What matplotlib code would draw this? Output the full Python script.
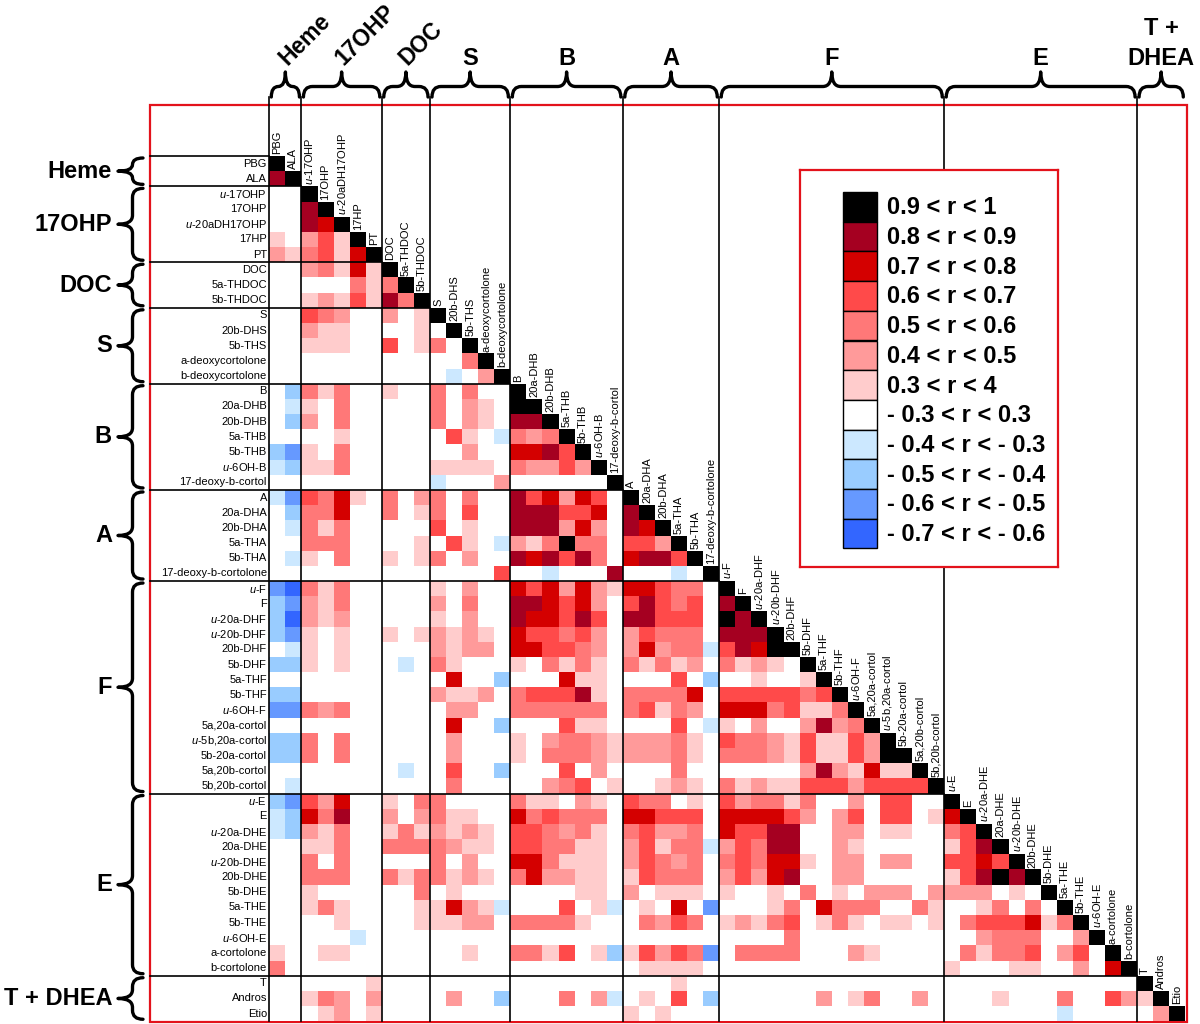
import numpy as np
import matplotlib
matplotlib.use("Agg")
import matplotlib.pyplot as plt
from matplotlib.colors import ListedColormap, BoundaryNorm
from matplotlib.path import Path
from matplotlib.patches import PathPatch, Rectangle

plt.rcParams['font.family'] = ['Liberation Sans', 'DejaVu Sans']
plt.rcParams['mathtext.fontset'] = 'custom'
plt.rcParams['mathtext.rm'] = 'Liberation Sans'
plt.rcParams['mathtext.it'] = 'Liberation Sans:italic'

# metabolites, in matrix order
names = ['PBG', 'ALA',
         'u-17OHP', '17OHP', 'u-20aDH17OHP', '17HP', 'PT',
         'DOC', '5a-THDOC', '5b-THDOC',
         'S', '20b-DHS', '5b-THS', 'a-deoxycortolone', 'b-deoxycortolone',
         'B', '20a-DHB', '20b-DHB', '5a-THB', '5b-THB', 'u-6OH-B', '17-deoxy-b-cortol',
         'A', '20a-DHA', '20b-DHA', '5a-THA', '5b-THA', '17-deoxy-b-cortolone',
         'u-F', 'F', 'u-20a-DHF', 'u-20b-DHF', '20b-DHF', '5b-DHF', '5a-THF', '5b-THF',
         'u-6OH-F', '5a,20a-cortol', 'u-5b,20a-cortol', '5b-20a-cortol', '5a,20b-cortol',
         '5b,20b-cortol',
         'u-E', 'E', 'u-20a-DHE', '20a-DHE', 'u-20b-DHE', '20b-DHE', '5b-DHE', '5a-THE',
         '5b-THE', 'u-6OH-E', 'a-cortolone', 'b-cortolone',
         'T', 'Andros', 'Etio']

groups = ['Heme', '17OHP', 'DOC', 'S', 'B', 'A', 'F', 'E', 'T + DHEA']
group_sizes = [2, 5, 3, 5, 7, 6, 14, 12, 3]

# lower triangle, one string per row (spaces only for reading)
# 9..3 : 0.9<r<1 ... 0.3<r<0.4 ; '.' : -0.3<r<0.3 ; a..d : -0.4<r<-0.3 ... -0.7<r<-0.6
rows = [
    "9",
    "89",
    "..9",
    "..89",
    "..879",
    "3.4639",
    "4356379",
    "..453739",
    ".....5359",
    "..34363859",
    "..654..4.39",
    "..433....3. 9",
    "..333..6.35 .9",
    "........... .59",
    "........... a.49",
    ".b535..3..5 .5.. 9",
    ".a3.5.....5 .43. 99",
    ".b4.5.....5 .43. 889",
    "....3...... 63.a 5459",
    "bc3.5...... .4.. 77869",
    "ab335.....3 333. 544649",
    "..........a ...4 ......9",
    "ac6573.5.45 .5.. 867476. 9",
    ".b557..5.35 .6.. 888667. 89",
    ".a535.....6 .3.. 888474. 879",
    "..555....3. 63.a 435955. 6649",
    ".a3.5..3.35 .4.. 878685. 78869",
    "........... ...6 ..a...8 ...a.9",
    "cd535.....3 .4.. 7674743 77655. 9",
    "bc435.....4 .5.. 887674. 68656. 89",
    "bd434.....3 .4.. 877686. 88666. 989",
    "bc3.3..3.34 343. 766564. 46555. 8889",
    ".a3.3.....4 344. 776654. 47455a 68799",
    "bb3.3...a.5 3... 3.5353. 53534. 5343.9",
    "........... 7..b ...733. ...6.b ..3..39",
    "bb........4 334. 566683. 55557. 66666569",
    "cc545...... 44.. 555555. 56354. 777563359",
    "........... 7..b ...633. ...6.a 3.4..48459",
    "bb5.5...... 4... 3.45543 44453. 65543633649",
    "bb5.5...... 4... 3.55543 44453. 555436336499",
    "........a.. 6..b ...6.4. ...5.. .....48437339",
    ".a......... 5... ..456.3 ..343. 53433666466669",
    "bc647..3.55 .... 533.43. 655.3. 645535..4.66..9",
    "ab758..4.45 33.. 756555. 77666. 777764.46.66.379",
    "ab435..3534 343. 665453. 56445. 76688..44.33..569",
    "..335..5555 433. 665533. 46355a 46588..43.....3689",
    "..5.5.....5 .4.. 775333. 46545. 565773.44.44..66769",
    "..555..5355 343. 574433. 36555. 46478..44.....368989",
    "..3......5. 3... ....33. 4.333. 3..3.5.3.444.4444.3.9",
    "..353....33 743a ...6.3a .3.7.c ...35.7555..53..35.5.9",
    "....3....33 344. 55553.. .5465. 34356.353.33.3.56667359",
    ".....a..... .... ....... ...... ....5 ........... 4555..49",
    "3..33...... .3.. 5536.3b 36465c .5555...43.....53556.46.9",
    "5.......... .... ....... .3333. .............. 3...33..4.79",
    "......3.... .... ....... ...3.. ..........................9",
    "..354.4.... 4..b ...5.4a .3.6.b ......4.35..4....3...5..6439",
    "...34.3.... .... ....... 3.3... ..................... a.....49",
]

level_codes = '9876543.abcd'
level_r = [0.95, 0.85, 0.75, 0.65, 0.55, 0.45, 0.35, 0.0, -0.35, -0.45, -0.55, -0.65]
level_colors = ['#000000', '#A50021', '#D40000', '#FF4A4A', '#FF7878', '#FF9A9A',
                '#FFCCCC', '#FFFFFF', '#CCE8FF', '#99CCFF', '#6699FF', '#3366FF']
level_labels = ['0.9 < r < 1', '0.8 < r < 0.9', '0.7 < r < 0.8', '0.6 < r < 0.7',
                '0.5 < r < 0.6', '0.4 < r < 0.5', '0.3 < r < 4', '- 0.3 < r < 0.3',
                '- 0.4 < r < - 0.3', '- 0.5 < r < - 0.4', '- 0.6 < r < - 0.5',
                '- 0.7 < r < - 0.6']

n = len(names)
M = np.full((n, n), np.nan)
for i, row in enumerate(rows):
    row = row.replace(' ', '')
    assert len(row) == i + 1, (i, len(row))
    for j, ch in enumerate(row):
        M[i, j] = level_r[level_codes.index(ch)]

bounds = [-0.7, -0.6, -0.5, -0.4, -0.3, 0.3, 0.4, 0.5, 0.6, 0.7, 0.8, 0.9, 1.0]
cmap = ListedColormap(level_colors[::-1])
norm = BoundaryNorm(bounds, cmap.N)


def fmt(name):
    if name.startswith('u-'):
        return r'$\mathit{u}$-' + name[2:]
    return name


def brace(axis, a, b, base, tip, vertical=False, lw=2.4):
    # curly brace from a to b, ends at `base`, point at `tip`
    L = b - a
    d = tip - base
    h1 = d * 0.42
    r = min(9.0, L / 4.0)
    pts = [(0, 0), (0, h1), (r, h1), (L / 2 - r, h1), (L / 2, h1), (L / 2, d),
           (L / 2, h1), (L / 2 + r, h1), (L - r, h1), (L, h1), (L, 0)]
    codes = [Path.MOVETO, Path.CURVE3, Path.CURVE3, Path.LINETO, Path.CURVE3, Path.CURVE3,
             Path.CURVE3, Path.CURVE3, Path.LINETO, Path.CURVE3, Path.CURVE3]
    if vertical:
        verts = [(base + v, a + u) for u, v in pts]
    else:
        verts = [(a + u, base + v) for u, v in pts]
    axis.add_patch(PathPatch(Path(verts, codes), fill=False, lw=lw, color='black',
                             capstyle='round', joinstyle='round'))


W, H = 1200, 1024
X0, Y0, CW, CH = 269.3, 156.0, 16.07, 15.18

fig = plt.figure(figsize=(12, 10.24), dpi=100)

ov = fig.add_axes([0, 0, 1, 1], zorder=0)
ov.set_xlim(0, W)
ov.set_ylim(H, 0)
ov.axis('off')

ax = fig.add_axes([X0 / W, 1 - (Y0 + n * CH) / H, n * CW / W, n * CH / H], zorder=1)
ax.pcolormesh(np.arange(n + 1), np.arange(n + 1), np.ma.masked_invalid(M),
              cmap=cmap, norm=norm, antialiased=False)
ax.set_xlim(0, n)
ax.set_ylim(n, 0)
ax.axis('off')

for i, name in enumerate(names):
    ax.text(-0.15, i + 0.5, fmt(name), ha='right', va='center', fontsize=8)
    ax.text(i + 0.5, i - 0.12, fmt(name), rotation=90, ha='center', va='bottom',
            fontsize=8)

starts = np.concatenate([[0], np.cumsum(group_sizes)[:-1]])
ends = np.cumsum(group_sizes)
x_frame = (150 - X0) / CW
y_top = (97 - Y0) / CH
for k in starts:
    ax.plot([k, k], [y_top, n], color='black', lw=1.2, clip_on=False)
    ax.plot([x_frame, k], [k, k], color='black', lw=1.2, clip_on=False)

ov.add_patch(Rectangle((150, 105), 1037, 917, fill=False, ec='#E3121B', lw=1.6))

for g, s, e in zip(groups, starts, ends):
    xa, xb = X0 + s * CW, X0 + e * CW
    brace(ov, xa + 2, xb - 2, 97, 72)
    ya, yb = Y0 + s * CH, Y0 + e * CH
    brace(ov, ya + 2, yb - 2, 143, 118, vertical=True)
    ov.text(112, (ya + yb) / 2, g, ha='right', va='center', fontsize=17,
            fontweight='bold')
    xm = (xa + xb) / 2
    if g in ('Heme', '17OHP', 'DOC'):
        ov.text(xm + 2, 66, g, rotation=45, rotation_mode='anchor', ha='left',
                va='baseline', fontsize=16.5, fontweight='bold')
    elif g == 'T + DHEA':
        ov.text(xm, 35, 'T +', ha='center', va='baseline', fontsize=17,
                fontweight='bold')
        ov.text(xm, 65, 'DHEA', ha='center', va='baseline', fontsize=17,
                fontweight='bold')
    else:
        ov.text(xm, 65, g, ha='center', va='baseline', fontsize=17, fontweight='bold')

# legend
lg = fig.add_axes([800 / W, 1 - 567 / H, 258 / W, 397 / H], zorder=2)
lg.set_xlim(0, 258)
lg.set_ylim(397, 0)
lg.set_xticks([])
lg.set_yticks([])
for sp in lg.spines.values():
    sp.set_color('#E3121B')
    sp.set_linewidth(1.6)
step = 29.7
ypos = 22 + step * (np.arange(len(level_labels)) + 0.5)
lg.barh(ypos, 34, left=43, height=step, color=level_colors, edgecolor='black', lw=1)
for y, lab in zip(ypos, level_labels):
    lg.text(87, y + 1, lab, ha='left', va='center', fontsize=17, fontweight='bold')

fig.savefig('out.png', dpi=100)
